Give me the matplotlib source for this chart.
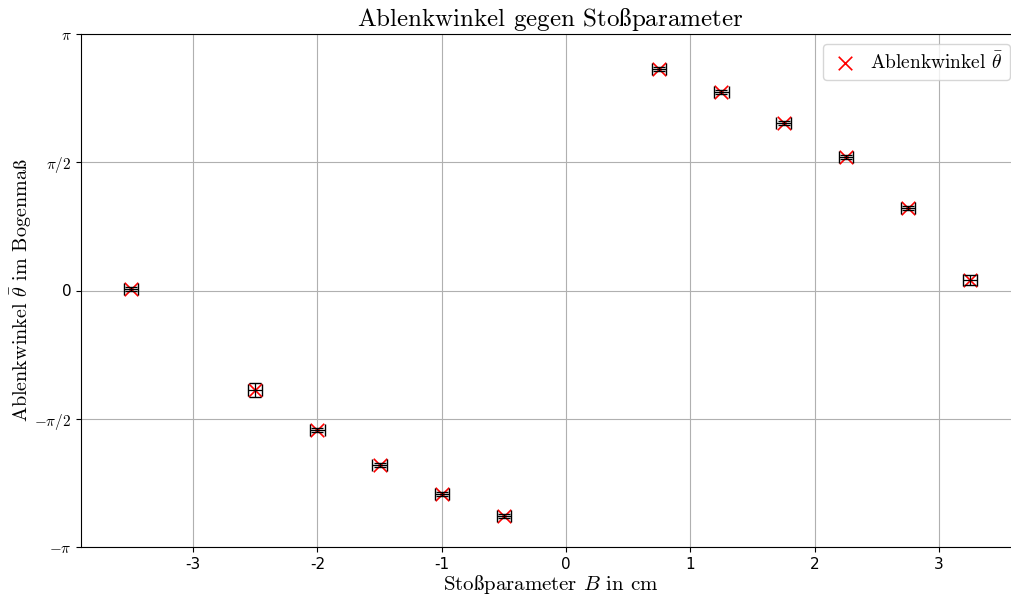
import numpy as np
import matplotlib
matplotlib.use("Agg")
import matplotlib.pyplot as plt

plt.rcParams['font.family'] = ['cmr10', 'DejaVu Serif']
plt.rcParams['mathtext.fontset'] = 'cm'
plt.rcParams['axes.unicode_minus'] = False

# Messwerte
b_cm = np.array([-3.5, -2.5, -2.0, -1.5, -1.0, -0.5, 0.75, 1.25, 1.75, 2.25, 2.75, 3.25])
theta = np.array([0.018, -1.219, -1.709, -2.137, -2.493, -2.762,
                  2.713, 2.431, 2.052, 1.635, 1.011, 0.129])
b_err = np.array([0.058] * 12)
theta_err = np.array([0.03, 0.085, 0.02, 0.02, 0.02, 0.02,
                      0.02, 0.02, 0.02, 0.02, 0.02, 0.06])

xticks = [-3, -2, -1, 0, 1, 2, 3]
xtick_labels = ["-3", "-2", "-1", "0", "1", "2", "3"]
yticks = [-np.pi, -np.pi / 2, 0, np.pi / 2, np.pi]
ytick_labels = [r"$-\pi$", r"$-\pi/2$", "0", r"$\pi/2$", r"$\pi$"]

fig = plt.figure(figsize=(10.11, 5.95), dpi=100)
ax = fig.add_axes([81 / 1011, 1 - 547 / 595, 939 / 1011, 513 / 595])

ax.scatter(b_cm, theta, marker='x', color='red', s=95, linewidths=1.2,
           label=r"Ablenkwinkel $\bar{\theta}$", zorder=2)
ax.errorbar(b_cm, theta, xerr=b_err, yerr=theta_err, fmt='none',
            ecolor='black', elinewidth=0.9, capsize=4, zorder=3)

ax.set_ylim(-np.pi, np.pi)
ax.set_xticks(xticks)
ax.set_xticklabels(xtick_labels, fontsize=11, family='DejaVu Sans')
ax.set_yticks(yticks)
ax.set_yticklabels(ytick_labels, fontsize=11, family='DejaVu Sans')
ax.grid(True, color='#b0b0b0')
ax.set_axisbelow(True)

ax.set_title(r"Ablenkwinkel gegen Sto$\mathrm{\ss}$parameter", fontsize=18)
ax.set_xlabel(r"Sto$\mathrm{\ss}$parameter $B$ in cm", fontsize=15, labelpad=1)
ax.set_ylabel(r"Ablenkwinkel $\bar{\theta}$ im Bogenma$\mathrm{\ss}$", fontsize=14.5,
              labelpad=0)
ax.legend(loc='upper right', fontsize=14, handlelength=1.4, handletextpad=0.6)

fig.savefig("out.png", dpi=100)
